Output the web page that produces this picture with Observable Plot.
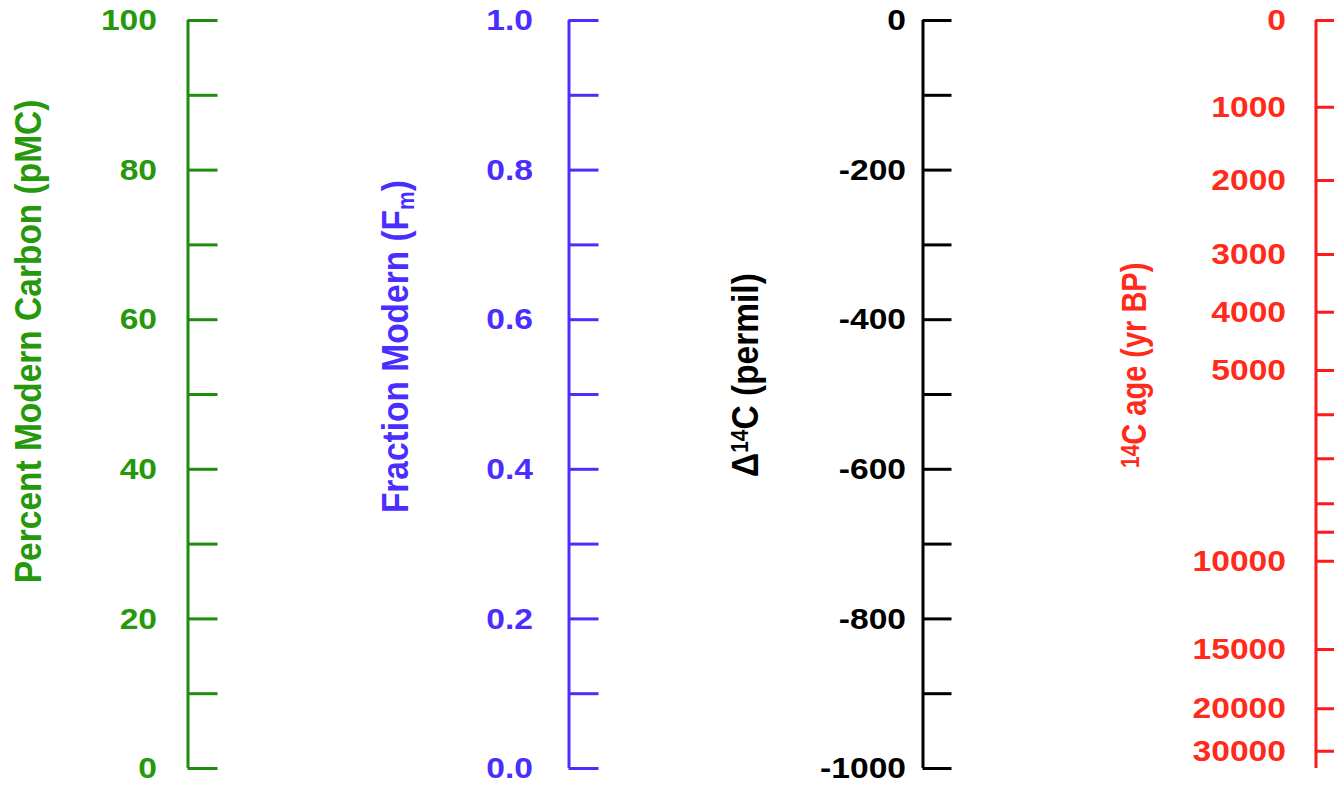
<!DOCTYPE html>
<html>
<head>
<meta charset="utf-8">
<script src="https://cdn.jsdelivr.net/npm/d3@7"></script>
<script src="https://cdn.jsdelivr.net/npm/@observablehq/plot@0.6"></script>
<style>
  html, body { margin: 0; padding: 0; background: #fff; }
  #chart svg { display: block; }
</style>
</head>
<body>
<div id="chart"></div>
<script>
// ---- data ----
const pmcTicks = [0, 10, 20, 30, 40, 50, 60, 70, 80, 90, 100];
const pmcLabels = [0, 20, 40, 60, 80, 100];

const fmTicks = [0, 0.1, 0.2, 0.3, 0.4, 0.5, 0.6, 0.7, 0.8, 0.9, 1.0];
const fmLabels = [0, 0.2, 0.4, 0.6, 0.8, 1.0];

const d14cTicks = [-1000, -900, -800, -700, -600, -500, -400, -300, -200, -100, 0];
const d14cLabels = [-1000, -800, -600, -400, -200, 0];

const ageTicks   = [0, 1000, 2000, 3000, 4000, 5000, 6000, 7000, 8000, 9000, 10000, 15000, 20000, 30000];
const ageTickFm  = [1.0, 0.884, 0.786, 0.687, 0.610, 0.532, 0.473, 0.414, 0.354, 0.316, 0.277, 0.159, 0.080, 0.023];
const ageLabels  = [0, 1000, 2000, 3000, 4000, 5000, 10000, 15000, 20000, 30000];

const titles = ["Percent Modern Carbon (pMC)", "Fraction Modern (F_m)", "\u0394^14C (permil)", "^14C age (yr BP)"];

// ---- layout / style ----
const FONT = "Liberation Sans, Arial, Helvetica, sans-serif";
const LAYOUT = {
  pmc:  {axis: 187.5, tickLen: 30, gap: 31, line: "#1f8c10", text: "#26980c", titleX: 28,   titleY: 0.571, titleSize: 33.5, stretch: 1.12, small: 0.62},
  fm:   {axis: 568.5, tickLen: 30, gap: 36, line: "#4a2dff", text: "#4a2dff", titleX: 395,  titleY: 0.564, titleSize: 33.5, stretch: 1.12, small: 0.62},
  d14c: {axis: 922.5, tickLen: 29, gap: 17, line: "#000000", text: "#000000", titleX: 745,  titleY: 0.526, titleSize: 33.5, stretch: 1.12, small: 0.62},
  age:  {axis: 1315.5, tickLen: 40, gap: 30, line: "#ff1a1a", text: "#ff2a1a", titleX: 1134, titleY: 0.539, titleSize: 29, stretch: 1.22, small: 0.74}
};
const LABEL_SIZE = 30, LABEL_STRETCH = 1.12;

const ageFm = new Map(ageTicks.map((a, i) => [a, ageTickFm[i]]));

function axisMarks(cfg, ticks, toFm, labels, fmt, title) {
  return [
    Plot.ruleX([0], {x: cfg.axis, y1: 0, y2: 1, stroke: cfg.line, strokeWidth: 3}),
    Plot.ruleY(ticks, {y: toFm, x1: cfg.axis, x2: cfg.axis + cfg.tickLen, stroke: cfg.line, strokeWidth: 3}),
    Plot.text(labels, {
      y: toFm, x: cfg.axis - cfg.gap, text: fmt, textAnchor: "end",
      fill: cfg.text, fontSize: LABEL_SIZE, fontWeight: "bold", fontFamily: FONT, className: "lbl"
    }),
    Plot.text([title], {
      x: cfg.titleX, y: cfg.titleY, text: d => d, rotate: -90, textAnchor: "middle",
      fill: cfg.text, fontSize: cfg.titleSize, fontWeight: "bold", fontFamily: FONT,
      className: "ttl", ariaDescription: JSON.stringify({size: cfg.titleSize, stretch: cfg.stretch, small: cfg.small})
    })
  ];
}

const chart = Plot.plot({
  width: 1334,
  height: 785,
  marginTop: 20,
  marginBottom: 17,
  marginLeft: 0,
  marginRight: 0,
  style: {background: "#fff", overflow: "hidden"},
  x: {type: "identity", axis: null},
  y: {domain: [0, 1], axis: null},
  marks: [
    ...axisMarks(LAYOUT.pmc, pmcTicks, d => d / 100, pmcLabels, d => String(d), titles[0]),
    ...axisMarks(LAYOUT.fm, fmTicks, d => d, fmLabels, d => d.toFixed(1), titles[1]),
    ...axisMarks(LAYOUT.d14c, d14cTicks, d => 1 + d / 1000, d14cLabels, d => String(d), titles[2]),
    ...axisMarks(LAYOUT.age, ageTicks, d => ageFm.get(d), ageLabels, d => String(d), titles[3])
  ]
});

document.getElementById("chart").appendChild(chart);

// ---- post-processing: superscripts/subscripts and glyph stretch ----
const NS = "http://www.w3.org/2000/svg";
function appendStretch(el, sx, sy) {
  const t = el.getAttribute("transform");
  if (t) {
    el.setAttribute("transform", `${t} scale(${sx},${sy})`);
  } else {
    const x = +el.getAttribute("x") || 0, y = +el.getAttribute("y") || 0;
    el.removeAttribute("x"); el.removeAttribute("y");
    el.setAttribute("transform", `translate(${x},${y}) scale(${sx},${sy})`);
  }
}
chart.querySelectorAll("g.lbl text").forEach(t => appendStretch(t, LABEL_STRETCH, 1));
const titleCfgs = [LAYOUT.pmc, LAYOUT.fm, LAYOUT.d14c, LAYOUT.age];
chart.querySelectorAll("g.ttl text").forEach((t, i) => {
  const cfg = titleCfgs[i];
  appendStretch(t, 1, cfg.stretch);
  const s = t.textContent;
  if (!/[\^_]/.test(s)) return;
  while (t.firstChild) t.removeChild(t.firstChild);
  const parts = s.split(/(\^[0-9]+|_[a-z])/).filter(p => p.length);
  const small = Math.round(cfg.titleSize * cfg.small);
  const supShift = +(0.716 * (cfg.titleSize - small)).toFixed(1);
  const subShift = 6;
  let pending = 0;
  for (const p of parts) {
    const ts = document.createElementNS(NS, "tspan");
    if (p[0] === "^" || p[0] === "_") {
      const shift = p[0] === "^" ? -supShift : subShift;
      ts.textContent = p.slice(1);
      ts.setAttribute("font-size", small);
      ts.setAttribute("dy", pending + shift);
      pending = -shift;
    } else {
      ts.textContent = p;
      if (pending) ts.setAttribute("dy", pending);
      pending = 0;
    }
    t.appendChild(ts);
  }
});
</script>
</body>
</html>
